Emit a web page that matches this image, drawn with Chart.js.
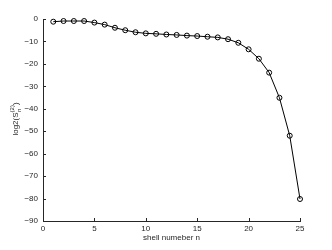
<!DOCTYPE html>
<html><head><meta charset="utf-8">
<script src="https://cdn.jsdelivr.net/npm/chart.js@4"></script>
<style>html,body{margin:0;padding:0;background:#fff}#wrap{width:332px;height:250px}</style>
</head><body><div id="wrap"><canvas id="c" width="332" height="250"></canvas></div>
<script>
const shellNumbers = [1,2,3,4,5,6,7,8,9,10,11,12,13,14,15,16,17,18,19,20,21,22,23,24,25];
const logS2 = [-1.2,-0.9,-0.9,-0.9,-1.6,-2.5,-3.9,-5.0,-5.9,-6.4,-6.6,-6.9,-7.1,-7.4,-7.6,-7.9,-8.2,-9.0,-10.6,-13.5,-17.7,-23.9,-35.1,-52.0,-80.2];
const xTicks = [0,5,10,15,20,25];
const yTicks = [0,-10,-20,-30,-40,-50,-60,-70,-80,-90];
const xTitle = 'shell numeber n';

const FONT = 'Liberation Sans, Arial, sans-serif';
const INK = '#262626';

const decor = {
  id: 'decor',
  afterDraw(chart) {
    const ctx = chart.ctx, a = chart.chartArea;
    const xs = chart.scales.x, ys = chart.scales.y;
    ctx.save();
    ctx.strokeStyle = INK; ctx.lineWidth = 1;
    ctx.beginPath();
    xTicks.forEach(v => { const px = Math.round(xs.getPixelForValue(v)) + 0.5; ctx.moveTo(px, a.bottom); ctx.lineTo(px, a.bottom - 3); });
    yTicks.forEach(v => { const py = Math.round(ys.getPixelForValue(v)) + 0.5; ctx.moveTo(a.left, py); ctx.lineTo(a.left + 3, py); });
    ctx.stroke();
    ctx.fillStyle = INK;
    ctx.font = '8px ' + FONT;
    ctx.textAlign = 'center'; ctx.textBaseline = 'middle';
    ctx.fillText(xTitle, (a.left + a.right) / 2, 238);
    ctx.translate(15, 119);
    ctx.rotate(-Math.PI / 2);
    ctx.textBaseline = 'alphabetic'; ctx.textAlign = 'left';
    const p1 = 'log2(S', p3 = ')';
    ctx.font = '8px ' + FONT;
    const w1 = ctx.measureText(p1).width;
    ctx.font = '6px ' + FONT;
    const wsup = ctx.measureText('(2)').width;
    ctx.font = '8px ' + FONT;
    const w3 = ctx.measureText(p3).width;
    const total = w1 + wsup + w3;
    let x0 = -total / 2;
    ctx.fillText(p1, x0, 3);
    ctx.font = '6px ' + FONT;
    ctx.fillText('(2)', x0 + w1, -1);
    ctx.fillText('n', x0 + w1 + 0.5, 6);
    ctx.font = '8px ' + FONT;
    ctx.fillText(p3, x0 + w1 + wsup, 3);
    ctx.restore();
  }
};

new Chart(document.getElementById('c'), {
  type: 'line',
  data: {
    datasets: [{
      data: shellNumbers.map((n, i) => ({x: n, y: logS2[i]})),
      borderColor: '#000',
      borderWidth: 1,
      pointRadius: 2.5,
      pointBorderWidth: 1,
      pointBorderColor: '#000',
      pointBackgroundColor: 'rgba(0,0,0,0)',
      tension: 0,
      clip: false
    }]
  },
  options: {
    responsive: false,
    animation: false,
    events: [],
    layout: {padding: {left: 0, top: 19, right: 32, bottom: 0}},
    plugins: {legend: {display: false}, tooltip: {enabled: false}},
    scales: {
      x: {
        type: 'linear', min: 0, max: 25,
        afterBuildTicks: s => { s.ticks = xTicks.map(v => ({value: v})); },
        afterFit: s => { s.height = 29; },
        grid: {display: true, drawOnChartArea: false, drawTicks: false},
        border: {display: true, color: INK, width: 1},
        ticks: {padding: 3, color: INK, font: {family: FONT, size: 8}, maxRotation: 0}
      },
      y: {
        type: 'linear', min: -90, max: 0,
        afterBuildTicks: s => { s.ticks = yTicks.map(v => ({value: v})); },
        afterFit: s => { s.width = 43; },
        grid: {display: true, drawOnChartArea: false, drawTicks: false},
        border: {display: true, color: INK, width: 1},
        ticks: {padding: 5, color: INK, font: {family: FONT, size: 8},
          callback: v => v < 0 ? '\u2212' + Math.abs(v) : String(v)}
      }
    }
  },
  plugins: [decor]
});
</script></body></html>
